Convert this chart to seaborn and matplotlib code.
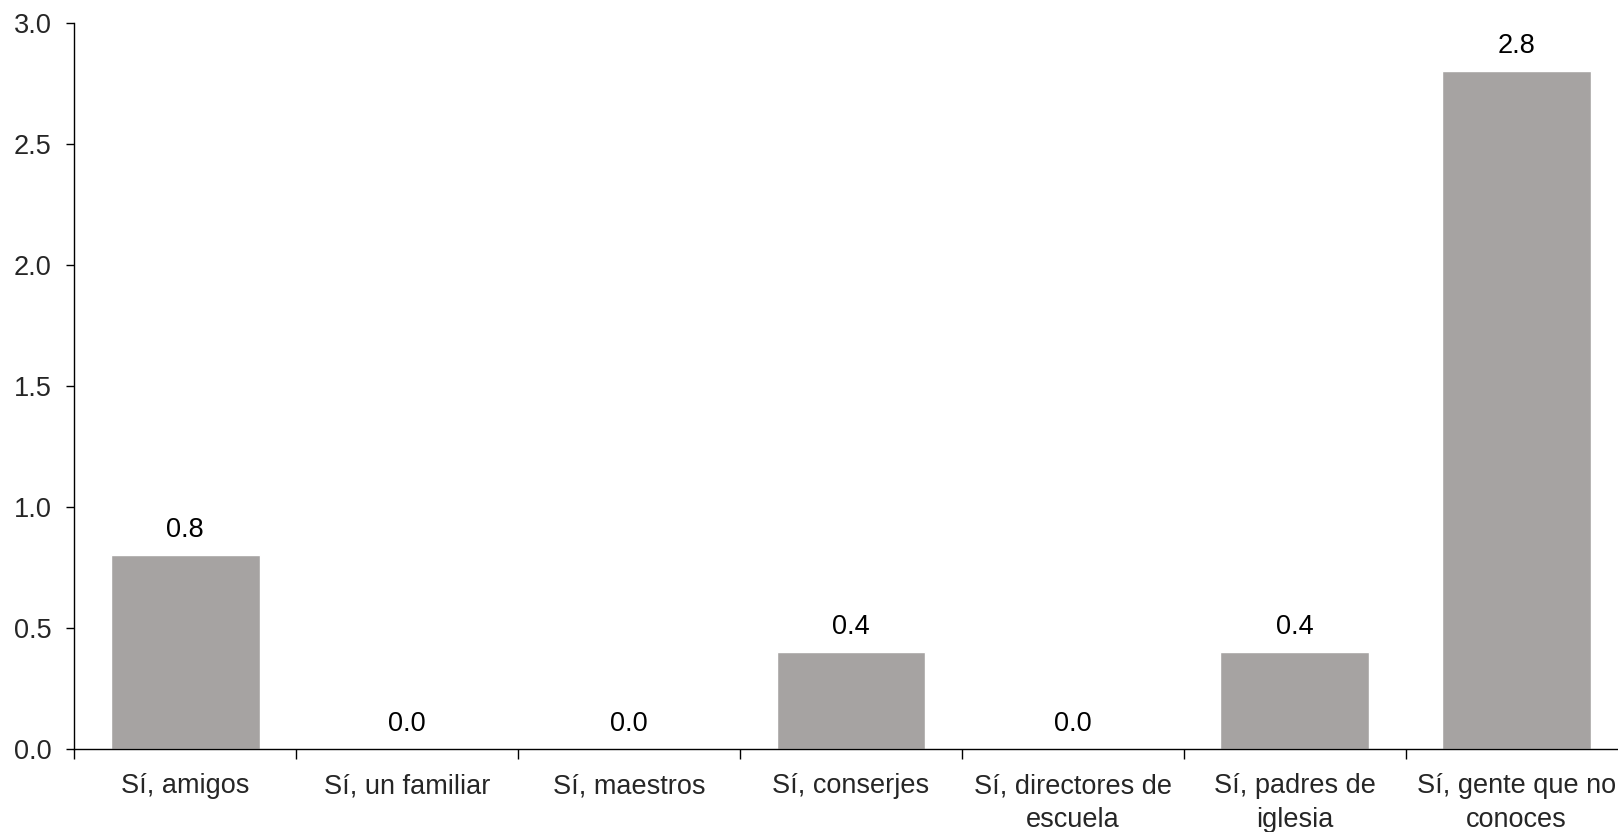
import matplotlib
matplotlib.use("Agg")
import matplotlib.pyplot as plt
import seaborn as sns
import numpy as np
import pandas as pd

categories = ["Sí, amigos", "Sí, un familiar", "Sí, maestros", "Sí, conserjes",
              "Sí, directores de\nescuela", "Sí, padres de\niglesia", "Sí, gente que no\nconoces"]
values = [0.8, 0.0, 0.0, 0.4, 0.0, 0.4, 2.8]
yticks = [0.0, 0.5, 1.0, 1.5, 2.0, 2.5, 3.0]

sns.set_style("ticks")
plt.rcParams['font.family'] = ['Liberation Sans', 'DejaVu Sans']

FS = 19.5

fig = plt.figure(figsize=(16.18, 8.32), dpi=100)
ax = fig.add_axes([0.0459, 0.0998, 0.960, 0.8729])

df = pd.DataFrame({"cat": categories, "val": values})
sns.barplot(data=df, x="cat", y="val", color="#a6a3a2", width=0.67,
            saturation=1, ax=ax)

ax.bar_label(ax.containers[0], fmt="%.1f", padding=8.5, fontsize=FS, color="black")

ax.set_xlim(-0.5, len(categories) - 0.5)
ax.set_ylim(0, 3.0)
ax.set_yticks(yticks)
ax.set_yticklabels([f"{t:.1f}" for t in yticks])
ax.set_xlabel("")
ax.set_ylabel("")

ax.set_xticks(np.arange(len(categories)))
ax.set_xticklabels(categories, linespacing=1.4)
ax.set_xticks(np.arange(len(categories) + 1) - 0.5, minor=True)
ax.tick_params(axis="x", which="major", length=0, pad=17.5, labelsize=FS)
ax.tick_params(axis="x", which="minor", length=7.5, width=1, direction="out", color="black")
ax.tick_params(axis="y", which="major", length=5.5, width=1, pad=11, labelsize=FS, color="black")

for s in ["top", "right"]:
    ax.spines[s].set_visible(False)
for s in ["left", "bottom"]:
    ax.spines[s].set_color("black")
    ax.spines[s].set_linewidth(1)

fig.savefig("out.png", dpi=100)
